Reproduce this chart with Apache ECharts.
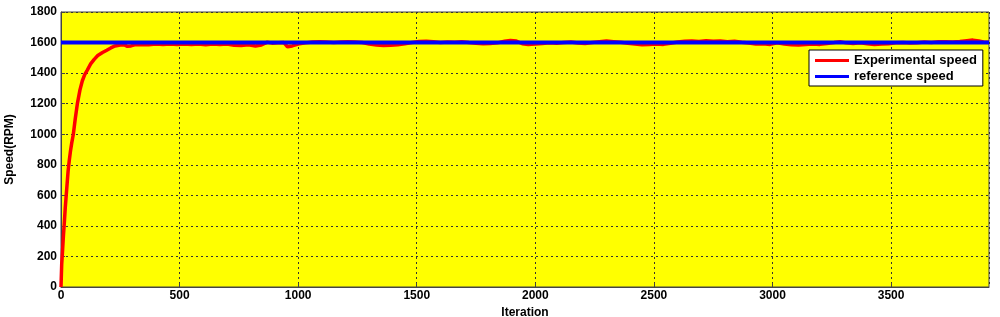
<!DOCTYPE html>
<html>
<head>
<meta charset="utf-8">
<script src="https://cdn.jsdelivr.net/npm/echarts@6/dist/echarts.min.js"></script>
<style>
html,body{margin:0;padding:0;background:#fff;}
#c{width:1000px;height:317px;}
</style>
</head>
<body>
<div id="c"></div>
<script>
const expIter = [0,3,7,10,14,18,22,26,30,35,40,45,52,60,69,80,90,100,111,125,140,155,175,193,210,228,
250,265,280,295,310,340,370,400,430,460,490,520,550,580,610,640,670,700,730,760,790,820,845,870,890,915,940,955,975,
1000,1030,1060,1090,1120,1150,1180,1210,1240,1270,1300,1330,1360,1390,1420,1450,1480,1510,1540,1570,
1600,1630,1660,1690,1720,1750,1780,1810,1840,1870,1895,1920,1945,1970,
2000,2030,2060,2090,2120,2150,2180,2210,2240,2270,2300,2330,2360,2390,2420,2450,2480,2510,2540,2570,
2600,2630,2660,2690,2720,2750,2780,2810,2840,2870,2900,2930,2960,2990,
3020,3050,3080,3110,3140,3170,3200,3230,3260,3285,3310,3340,3370,3400,3430,3460,3490,3520,3550,3580,
3610,3640,3670,3700,3730,3760,3790,3820,3845,3870,3890,3913];
const expSpeed = [0,150,250,330,420,520,600,680,760,830,890,940,1000,1100,1200,1290,1350,1390,1420,1460,1490,1515,1535,1550,1565,1578,
1584,1586,1575,1578,1585,1588,1586,1590,1588,1591,1587,1590,1588,1591,1586,1590,1588,1590,1582,1580,1586,1578,1584,1603,1596,1598,1600,1572,1578,
1590,1598,1604,1606,1603,1600,1604,1606,1603,1600,1590,1584,1580,1582,1585,1592,1600,1607,1608,1605,
1600,1604,1602,1606,1600,1596,1592,1594,1598,1608,1614,1610,1592,1588,
1590,1594,1598,1596,1600,1604,1597,1594,1600,1606,1610,1606,1602,1596,1590,1586,1588,1590,1588,1595,
1604,1608,1610,1607,1612,1609,1611,1606,1608,1602,1597,1590,1592,1588,
1598,1590,1586,1584,1588,1590,1588,1594,1600,1606,1598,1594,1598,1592,1588,1590,1592,1598,1600,1597,
1599,1603,1600,1605,1606,1603,1607,1612,1616,1610,1604,1602];
// Reference speed
const refIter = [0, 3913];
const refSpeed = [1600, 1600];
const xTicks = [0,500,1000,1500,2000,2500,3000,3500];
const yTicks = [0,200,400,600,800,1000,1200,1400,1600,1800];
const seriesNames = ['Experimental speed','reference speed'];

const chart = echarts.init(document.getElementById('c'), null, {renderer:'canvas'});
const font = 'Liberation Sans, Arial, sans-serif';
chart.setOption({
  animation:false,
  backgroundColor:'#ffffff',
  grid:{left:61,right:11,top:12,bottom:30,outerBoundsMode:'none',containLabel:false,
        show:true,backgroundColor:'#ffff00',borderColor:'#444',borderWidth:1},
  legend:{
    orient:'vertical',left:809,top:50,
    backgroundColor:'#ffffff',borderColor:'#000',borderWidth:1,padding:[4,6,3,6],
    itemGap:3,itemWidth:34,itemHeight:3,icon:'rect',
    textStyle:{fontFamily:font,fontWeight:'bold',fontSize:13,color:'#000'},
    data:seriesNames
  },
  xAxis:{
    type:'value',min:0,max:3913,interval:500,
    name:'Iteration',nameLocation:'middle',nameGap:18,
    nameTextStyle:{fontFamily:font,fontWeight:'bold',fontSize:12,color:'#000'},
    axisLine:{show:true,lineStyle:{color:'#444'}},
    axisTick:{show:true,inside:true,length:4,lineStyle:{color:'#444'}},
    axisLabel:{fontFamily:font,fontWeight:'bold',fontSize:12,color:'#000',margin:3,
      formatter:v=>xTicks.includes(v)?String(v):'' ,showMaxLabel:false},
    splitLine:{show:true,lineStyle:{color:'#333',type:[2,3],width:1}}
  },
  yAxis:{
    type:'value',min:0,max:1800,interval:200,
    name:'Speed(RPM)',nameLocation:'middle',nameGap:45,
    nameTextStyle:{fontFamily:font,fontWeight:'bold',fontSize:12,color:'#000'},
    axisLine:{show:true,lineStyle:{color:'#444'}},
    axisTick:{show:true,inside:true,length:4,lineStyle:{color:'#444'}},
    axisLabel:{fontFamily:font,fontWeight:'bold',fontSize:12,color:'#000',margin:4,
      formatter:v=>yTicks.includes(v)?String(v):''},
    splitLine:{show:true,lineStyle:{color:'#333',type:[2,3],width:1}}
  },
  series:[
    {name:seriesNames[0],type:'line',showSymbol:false,symbol:'none',
     data:expIter.map((x,i)=>[x,expSpeed[i]]),
     lineStyle:{color:'#ff0000',width:3.5},itemStyle:{color:'#ff0000'},z:2},
    {name:seriesNames[1],type:'line',showSymbol:false,symbol:'none',
     data:refIter.map((x,i)=>[x,refSpeed[i]]),
     lineStyle:{color:'#0000ff',width:4},itemStyle:{color:'#0000ff'},z:3}
  ]
});
</script>
</body>
</html>
